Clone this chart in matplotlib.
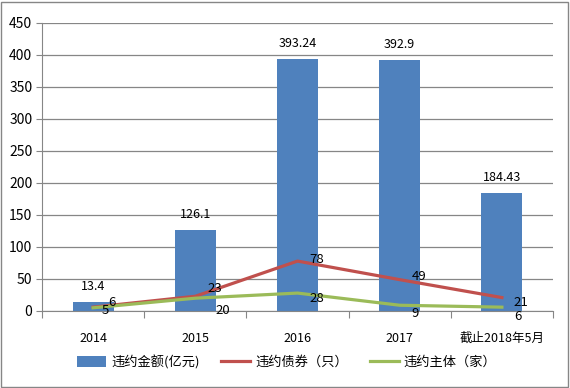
import numpy as np
import matplotlib
matplotlib.use("Agg")
import matplotlib.pyplot as plt
from matplotlib.patches import Rectangle

plt.rcParams['font.family'] = ['Noto Sans CJK SC', 'DejaVu Sans']

# data
categories = ['2014', '2015', '2016', '2017', '截止2018年5月']
amount = [13.4, 126.1, 393.24, 392.9, 184.43]      # 违约金额(亿元)
bonds = [6, 23, 78, 49, 21]                          # 违约债券（只）
issuers = [5, 20, 28, 9, 6]                          # 违约主体（家）
amount_labels = ['13.4', '126.1', '393.24', '392.9', '184.43']

blue = '#4F81BD'
red = '#C0504D'
green = '#9BBB59'

fig = plt.figure(figsize=(5.7, 3.88), dpi=100)
ax = fig.add_axes([42 / 570, 1 - 311 / 388, 511 / 570, 288 / 388])

x = np.arange(len(categories))
h_bar = ax.bar(x, amount, width=0.4, color=blue, zorder=2, label='违约金额(亿元)')
h_red, = ax.plot(x, bonds, color=red, lw=2.3, zorder=3, label='违约债券（只）')
h_green, = ax.plot(x, issuers, color=green, lw=2.3, zorder=3, label='违约主体（家）')

# bar value labels
for xi, v, s in zip(x, amount, amount_labels):
    ax.annotate(s, (xi, v), xytext=(0, 9), textcoords='offset pixels',
                ha='center', va='bottom', fontsize=9)

# line value labels (offsets in pixels, to the right of each point)
bond_off = [(15, 5), (12, 8), (12, 2), (12, 3), (12, -5)]
issuer_off = [(9, -3), (20, -12), (12, -5), (12, -8), (12, -9)]
for xi, v, off in zip(x, bonds, bond_off):
    ax.annotate(str(v), (xi, v), xytext=off, textcoords='offset pixels',
                ha='left', va='center', fontsize=9.5)
for xi, v, off in zip(x, issuers, issuer_off):
    ax.annotate(str(v), (xi, v), xytext=off, textcoords='offset pixels',
                ha='left', va='center', fontsize=9.5)

ax.set_xlim(-0.5, len(categories) - 0.5)
ax.set_ylim(0, 450)
ax.set_yticks(np.arange(0, 451, 50))
ax.yaxis.grid(True, color='#868686', lw=0.9, zorder=0)
ax.set_axisbelow(True)

# category boundaries get tick marks, labels sit at the centres
ax.set_xticks(np.arange(-0.5, len(categories), 1.0))
ax.set_xticklabels([])
ax.set_xticks(x, minor=True)
ax.set_xticklabels(categories, minor=True)
ax.tick_params(axis='x', which='major', length=5, color='#868686', direction='out')
ax.tick_params(axis='x', which='minor', length=0, pad=15, labelsize=9)
ax.tick_params(axis='y', length=4, color='#868686', labelsize=10, pad=3)

for side in ['top', 'right']:
    ax.spines[side].set_visible(False)
ax.spines['left'].set_color('#868686')
ax.spines['bottom'].set_color('#868686')

fig.legend([h_bar, h_red, h_green], ['违约金额(亿元)', '违约债券（只）', '违约主体（家）'],
           loc='center', bbox_to_anchor=(287 / 570, 1 - 362 / 388), ncol=3, frameon=False,
           fontsize=9.5, handlelength=2.2, handleheight=0.9, columnspacing=1.6,
           handletextpad=0.4)

# outer chart border
fig.patches.append(Rectangle((1 / 570, 1 / 388), 567 / 570, 385 / 388,
                             transform=fig.transFigure, fill=False,
                             edgecolor='#868686', lw=1))

fig.savefig('out.png', dpi=100)
